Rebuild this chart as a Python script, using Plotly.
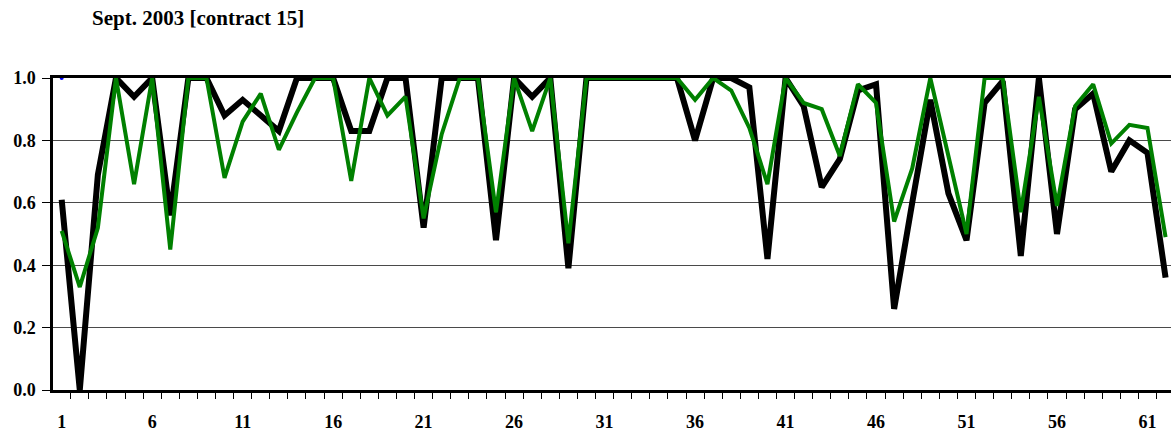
import plotly.graph_objects as go

x_idx = list(range(1, 63))
tick_labels = [1, 6, 11, 16, 21, 26, 31, 36, 41, 46, 51, 56, 61]

black_series = [0.61, 0.0, 0.69, 1.0, 0.94, 1.0, 0.56, 1.0, 1.0, 0.88,
                0.93, 0.88, 0.83, 1.0, 1.0, 1.0, 0.83, 0.83, 1.0, 1.0,
                0.52, 1.0, 1.0, 1.0, 0.48, 1.0, 0.94, 1.0, 0.39, 1.0,
                1.0, 1.0, 1.0, 1.0, 1.0, 0.80, 1.0, 1.0, 0.97, 0.42,
                1.0, 0.91, 0.65, 0.74, 0.96, 0.98, 0.26, 0.60, 0.93, 0.63,
                0.48, 0.92, 0.99, 0.43, 1.0, 0.50, 0.90, 0.95, 0.70, 0.80, 0.76, 0.36]

green_series = [0.51, 0.33, 0.52, 1.0, 0.66, 1.0, 0.45, 1.0, 1.0, 0.68,
                0.86, 0.95, 0.77, 0.89, 1.0, 1.0, 0.67, 1.0, 0.88, 0.94,
                0.55, 0.82, 1.0, 1.0, 0.57, 1.0, 0.83, 1.0, 0.47, 1.0,
                1.0, 1.0, 1.0, 1.0, 1.0, 0.93, 1.0, 0.96, 0.84, 0.66,
                1.0, 0.92, 0.90, 0.75, 0.98, 0.92, 0.54, 0.71, 1.0, 0.75,
                0.50, 1.0, 1.0, 0.57, 0.94, 0.59, 0.91, 0.98, 0.79, 0.85, 0.84, 0.49]

blue_x = [1]
blue_series = [1.0]

title_text = "Sept. 2003 [contract 15]"
font_family = "Liberation Serif, Times New Roman, serif"

fig = go.Figure()
fig.add_trace(go.Scatter(x=x_idx, y=black_series, mode="lines",
                         line=dict(color="#000000", width=6), showlegend=False))
fig.add_trace(go.Scatter(x=x_idx, y=green_series, mode="lines",
                         line=dict(color="#008000", width=4), showlegend=False))
fig.add_trace(go.Scatter(x=blue_x, y=blue_series, mode="markers",
                         marker=dict(color="#0000ff", size=4), showlegend=False))

fig.update_layout(
    width=1171, height=438,
    margin=dict(l=53, r=0, t=78, b=48),
    plot_bgcolor="white", paper_bgcolor="white",
    font=dict(family=font_family, size=18, color="black"),
    showlegend=False,
    xaxis=dict(
        range=[0.52, 62.3],
        tickmode="array", tickvals=tick_labels, ticktext=[str(t) for t in tick_labels],
        ticks="outside", ticklen=13, tickcolor="rgba(0,0,0,0)",
        tickfont=dict(family=font_family, size=18, color="black", weight="bold"),
        showgrid=False, zeroline=False,
        showline=True, linecolor="black", linewidth=3, mirror=True,
        minor=dict(tick0=0.5, dtick=1, ticks="outside", ticklen=6,
                   tickcolor="black", tickwidth=1, showgrid=False),
    ),
    yaxis=dict(
        range=[0, 1],
        tickmode="array", tickvals=[0, 0.2, 0.4, 0.6, 0.8, 1.0],
        ticktext=["0.0", "0.2", "0.4", "0.6", "0.8", "1.0"],
        ticks="outside", ticklen=8, tickcolor="black", tickwidth=1,
        ticklabelstandoff=3,
        tickfont=dict(family=font_family, size=18, color="black", weight="bold"),
        showgrid=True, gridcolor="#4a4a4a", gridwidth=1,
        zeroline=False,
        showline=True, linecolor="black", linewidth=2.5,
    ),
    annotations=[dict(
        text=title_text, xref="paper", yref="paper",
        x=37 / 1118, y=(390 - 18) / 312, xanchor="left", yanchor="middle",
        showarrow=False,
        font=dict(family=font_family, size=21, color="black", weight="bold"),
    )],
)

fig.write_html("out.html", config={"displayModeBar": False},
               post_script="document.body.style.margin='0';")
